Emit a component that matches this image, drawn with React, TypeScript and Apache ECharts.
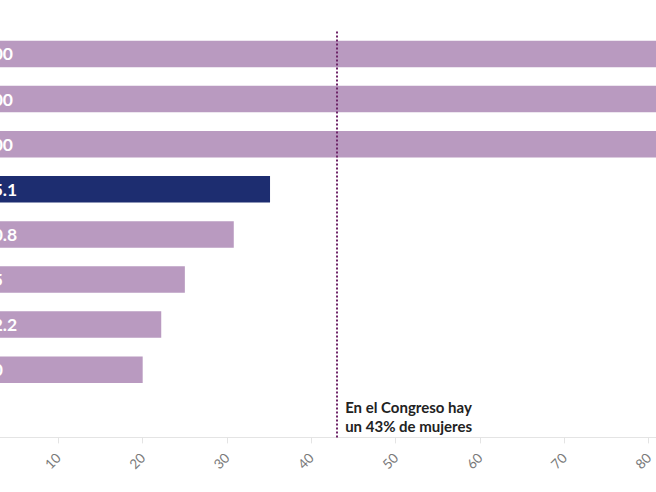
import React, { useEffect, useRef } from "react";
import * as echarts from "echarts";

// Category names are outside the visible crop; kept generic and not displayed.
const categories = ["Fila 1", "Fila 2", "Fila 3", "Fila 4", "Fila 5", "Fila 6", "Fila 7", "Fila 8"];
const values = [100, 100, 100, 35.1, 30.8, 25, 22.2, 20];
const highlightIndex = 3;
const congressShare = 43;
const annotationLines = ["En el Congreso hay", "un 43% de mujeres"];
const xMin = 0;
const xMax = 100;
const xInterval = 10;

const LILAC = "#b99ac0";
const NAVY = "#1d2d70";
const DOT = "#6e2468";
const FONT = "Lato, 'Noto Sans', sans-serif";

export default function App() {
  const ref = useRef<HTMLDivElement>(null);

  useEffect(() => {
    if (!ref.current) return;
    const chart = echarts.init(ref.current, null, { renderer: "svg" });
    chart.setOption({
      animation: false,
      backgroundColor: "#ffffff",
      grid: { left: 174, right: 38.6, top: 31.4, bottom: 54.6, containLabel: false },
      xAxis: {
        type: "value",
        min: xMin,
        max: xMax,
        interval: xInterval,
        splitLine: { show: false },
        axisLine: { show: true, lineStyle: { color: "#e4e4e4", width: 1 } },
        axisTick: { show: true, length: 6, lineStyle: { color: "#e4e4e4" } },
        axisLabel: { rotate: 45, margin: 18, color: "#7a7a7a", fontSize: 13.5, fontFamily: FONT },
      },
      yAxis: {
        type: "category",
        data: categories,
        inverse: true,
        max: categories.length,
        axisLine: { show: false },
        axisTick: { show: false },
        axisLabel: { show: false },
        splitLine: { show: false },
      },
      series: [
        {
          type: "bar",
          barWidth: 26.5,
          data: values.map((v, i) => ({
            value: v,
            itemStyle: { color: i === highlightIndex ? NAVY : LILAC },
          })),
          label: {
            show: true,
            position: "insideLeft",
            distance: 8.5,
            color: "#ffffff",
            fontWeight: "bold",
            fontSize: 17.5,
            fontFamily: FONT,
          },
          markLine: {
            silent: true,
            symbol: "none",
            label: { show: false },
            lineStyle: { type: [2, 2], color: DOT, width: 2 },
            data: [{ xAxis: congressShare }],
          },
        },
      ],
    });

    const p = chart.convertToPixel({ gridIndex: 0 }, [congressShare, categories.length]);
    if (p && isFinite(p[0]) && isFinite(p[1])) {
      chart.setOption({
        graphic: [
          {
            type: "text",
            x: p[0] + 8.5,
            y: p[1] + 1.5,
            silent: true,
            style: {
              text: annotationLines.join("\n"),
              fill: "#222222",
              fontWeight: "bold",
              fontSize: 15,
              lineHeight: 19.5,
              fontFamily: FONT,
              align: "left",
              verticalAlign: "middle",
            },
          },
        ],
      });
    }
    return () => chart.dispose();
  }, []);

  return (
    <div style={{ position: "fixed", left: 0, top: 0, width: 656, height: 492, overflow: "hidden", background: "#fff" }}>
      <div ref={ref} style={{ position: "absolute", left: -200, top: 0, width: 1056, height: 492 }} />
    </div>
  );
}
